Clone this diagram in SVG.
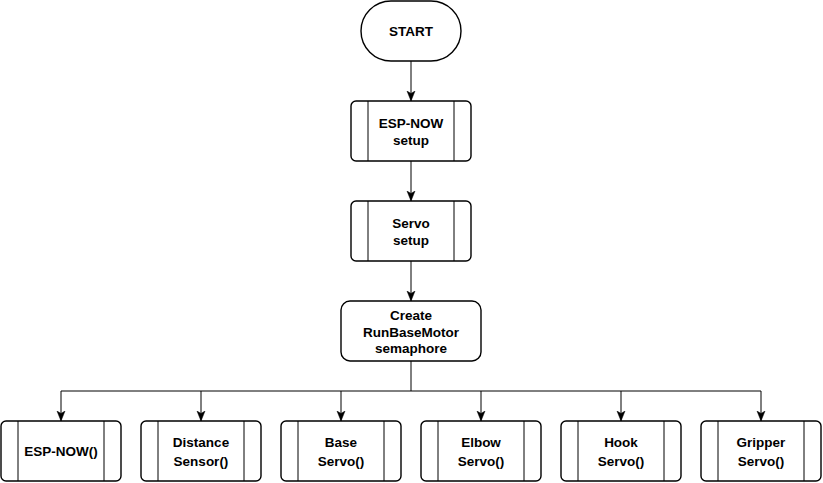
<svg xmlns="http://www.w3.org/2000/svg" width="823" height="483" viewBox="0 0 823 483">
<style>
.s{fill:#fff;stroke:#000;stroke-width:1.4}
.l{fill:none;stroke:#000;stroke-width:1}
.t{font-family:"Liberation Sans",Arial,sans-serif;font-weight:bold;font-size:13.5px;fill:#000;text-anchor:middle}
</style>
<defs>
<marker id="a" viewBox="0 0 10 10" refX="10" refY="5" markerWidth="10" markerHeight="10" markerUnits="userSpaceOnUse" orient="auto">
<path d="M0,1 L10,5 L0,9 L2.5,5 Z" fill="#000" stroke="#000" stroke-width="0.5"/>
</marker>
</defs>
<rect width="823" height="483" fill="#fff"/>
<g id="connectors">
<path class="l" d="M411,61 V101" marker-end="url(#a)"/>
<path class="l" d="M411,161 V201" marker-end="url(#a)"/>
<path class="l" d="M411,261 V301" marker-end="url(#a)"/>
<path class="l" d="M411,361 V391 H61 V421" marker-end="url(#a)"/>
<path class="l" d="M201,391 V421" marker-end="url(#a)"/>
<path class="l" d="M341,391 V421" marker-end="url(#a)"/>
<path class="l" d="M411,391 H481 V421" marker-end="url(#a)"/>
<path class="l" d="M481,391 H621 V421" marker-end="url(#a)"/>
<path class="l" d="M621,391 H761 V421" marker-end="url(#a)"/>
</g>
<g id="start">
<rect class="s" x="361" y="1" width="100" height="60" rx="30"/>
<text class="t" x="411" y="36">START</text>
</g>
<g id="espnow-setup">
<rect class="s" x="351" y="101" width="120" height="60" rx="5"/>
<path class="l" d="M368,101 V161 M454,101 V161" stroke-width="1.4"/>
<text class="t" x="411" y="128">ESP-NOW</text>
<text class="t" x="411" y="145">setup</text>
</g>
<g id="servo-setup">
<rect class="s" x="351" y="201" width="120" height="60" rx="5"/>
<path class="l" d="M368,201 V261 M454,201 V261" stroke-width="1.4"/>
<text class="t" x="411" y="228">Servo</text>
<text class="t" x="411" y="245">setup</text>
</g>
<g id="create">
<rect class="s" x="341" y="301" width="140" height="60" rx="9"/>
<text class="t" x="411" y="320">Create</text>
<text class="t" x="411" y="337">RunBaseMotor</text>
<text class="t" x="411" y="353">semaphore</text>
</g>
<g id="espnow">
<rect class="s" x="1" y="421" width="120" height="60" rx="5"/>
<path class="l" d="M18,421 V481 M104,421 V481" stroke-width="1.4"/>
<text class="t" x="61" y="456">ESP-NOW()</text>
</g>
<g id="distance">
<rect class="s" x="141" y="421" width="120" height="60" rx="5"/>
<path class="l" d="M158,421 V481 M244,421 V481" stroke-width="1.4"/>
<text class="t" x="201" y="447">Distance</text>
<text class="t" x="201" y="466">Sensor()</text>
</g>
<g id="base">
<rect class="s" x="281" y="421" width="120" height="60" rx="5"/>
<path class="l" d="M298,421 V481 M384,421 V481" stroke-width="1.4"/>
<text class="t" x="341" y="447">Base</text>
<text class="t" x="341" y="466">Servo()</text>
</g>
<g id="elbow">
<rect class="s" x="421" y="421" width="120" height="60" rx="5"/>
<path class="l" d="M438,421 V481 M524,421 V481" stroke-width="1.4"/>
<text class="t" x="481" y="447">Elbow</text>
<text class="t" x="481" y="466">Servo()</text>
</g>
<g id="hook">
<rect class="s" x="561" y="421" width="120" height="60" rx="5"/>
<path class="l" d="M578,421 V481 M664,421 V481" stroke-width="1.4"/>
<text class="t" x="621" y="447">Hook</text>
<text class="t" x="621" y="466">Servo()</text>
</g>
<g id="gripper">
<rect class="s" x="701" y="421" width="120" height="60" rx="5"/>
<path class="l" d="M718,421 V481 M804,421 V481" stroke-width="1.4"/>
<text class="t" x="761" y="447">Gripper</text>
<text class="t" x="761" y="466">Servo()</text>
</g>
</svg>
